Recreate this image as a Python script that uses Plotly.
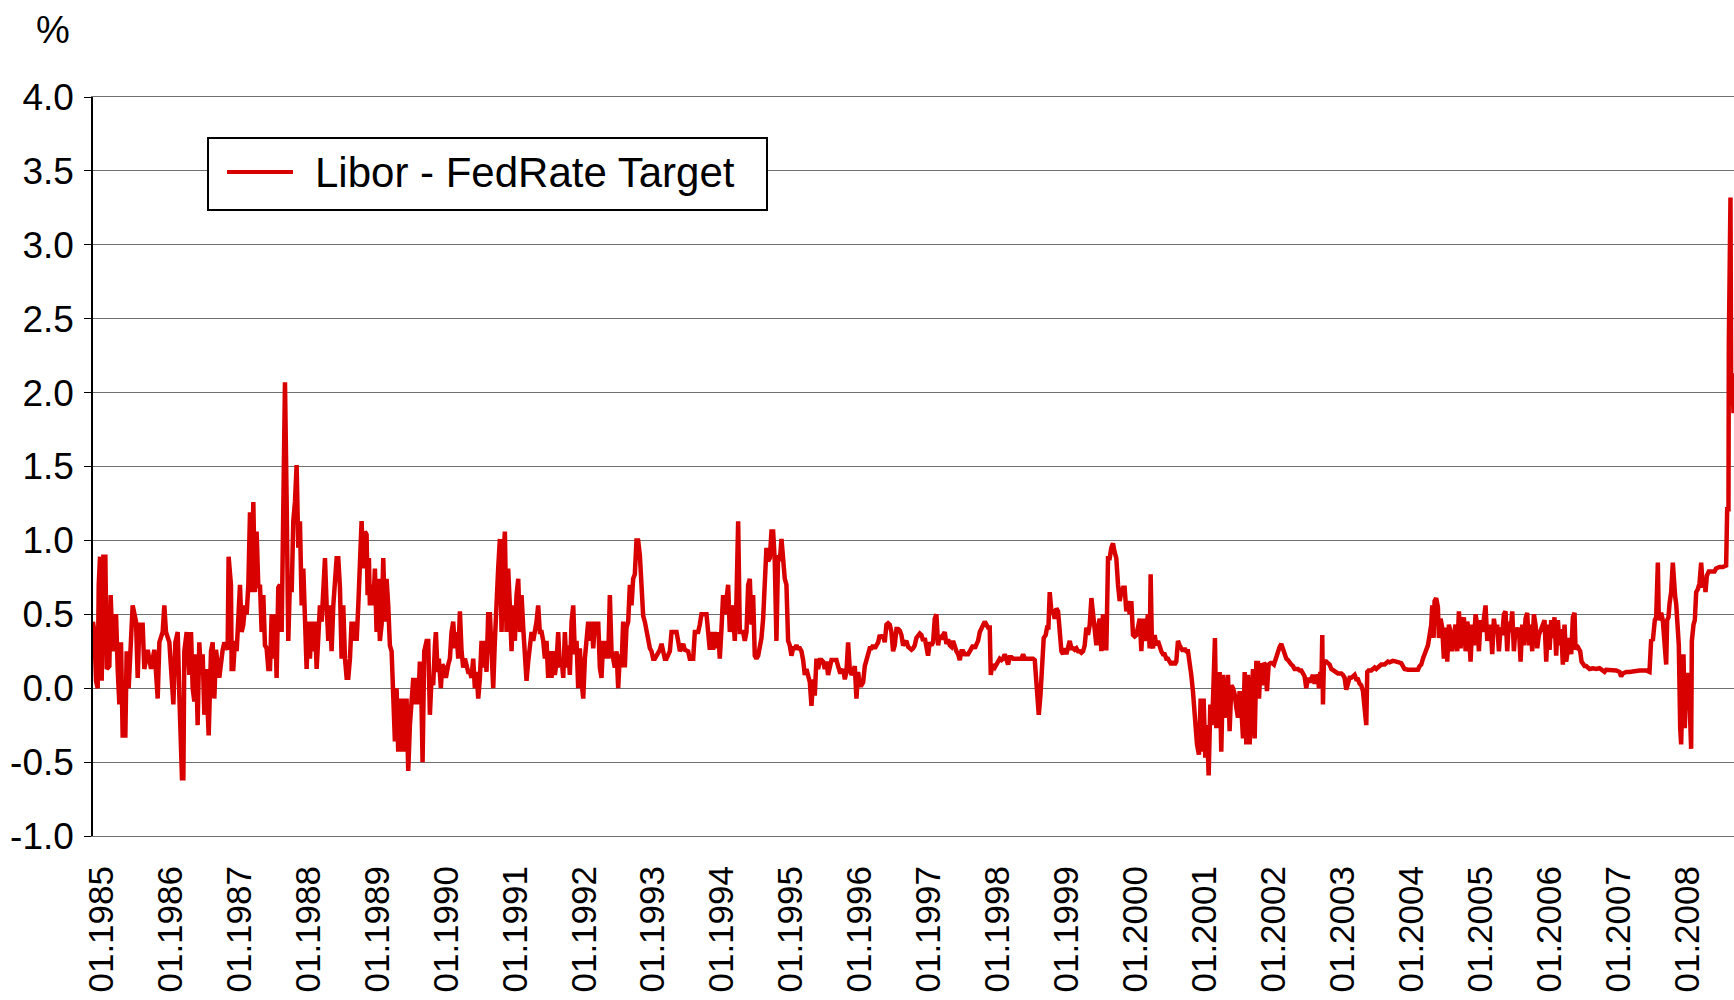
import plotly.graph_objects as go

# ---- data: (decimal year, Libor - Fed target spread in %) ----
SPREAD_1985_1986 = [
    (1985.000, 0.45), (1985.020, 0.38), (1985.044, 0.05), (1985.068, 0.00), (1985.083, 0.70),
    (1985.102, 0.89), (1985.126, 0.05), (1985.150, 0.89), (1985.179, 0.89), (1985.199, 0.13),
    (1985.237, 0.15), (1985.256, 0.63), (1985.285, 0.25), (1985.334, 0.50), (1985.358, 0.13),
    (1985.382, -0.11), (1985.406, 0.31), (1985.430, -0.32), (1985.469, -0.32), (1985.488, 0.25),
    (1985.517, 0.00), (1985.551, 0.45), (1985.575, 0.56), (1985.624, 0.45), (1985.648, 0.07),
    (1985.672, 0.43), (1985.720, 0.43), (1985.744, 0.13), (1985.793, 0.26), (1985.841, 0.13),
    (1985.889, 0.26), (1985.913, 0.11), (1985.938, -0.07), (1985.962, 0.31), (1986.010, 0.38),
    (1986.034, 0.56), (1986.058, 0.38), (1986.107, 0.31), (1986.131, 0.13), (1986.165, -0.11),
    (1986.194, 0.31), (1986.228, 0.38), (1986.252, -0.05), (1986.290, -0.61), (1986.310, -0.61),
    (1986.324, 0.25), (1986.358, 0.38), (1986.397, 0.09), (1986.421, 0.38), (1986.445, 0.00),
    (1986.469, -0.09), (1986.493, 0.23), (1986.517, -0.25), (1986.541, 0.31), (1986.566, 0.09),
    (1986.590, 0.23), (1986.614, -0.18), (1986.638, 0.13), (1986.677, -0.32), (1986.711, 0.25),
    (1986.735, 0.31), (1986.759, -0.07), (1986.783, 0.26), (1986.831, 0.07), (1986.880, 0.26),
    (1986.904, 0.31), (1986.952, 0.26), (1986.966, 0.89), (1987.000, 0.70),
]

SPREAD_1987_1988 = [
    (1987.010, 0.13), (1987.034, 0.13), (1987.058, 0.32), (1987.083, 0.25), (1987.107, 0.50),
    (1987.131, 0.70), (1987.155, 0.38), (1987.179, 0.43), (1987.203, 0.56), (1987.228, 0.50),
    (1987.252, 0.70), (1987.276, 1.19), (1987.300, 0.65), (1987.324, 1.26), (1987.348, 0.65),
    (1987.372, 1.06), (1987.397, 0.68), (1987.421, 0.70), (1987.445, 0.38), (1987.469, 0.63),
    (1987.493, 0.29), (1987.517, 0.27), (1987.542, 0.13), (1987.566, 0.13), (1987.590, 0.50),
    (1987.614, 0.20), (1987.638, 0.50), (1987.662, 0.07), (1987.686, 0.68), (1987.711, 0.70),
    (1987.735, 0.38), (1987.759, 1.37), (1987.783, 2.07), (1987.807, 1.28), (1987.831, 0.32),
    (1987.856, 0.74), (1987.880, 0.65), (1987.904, 1.13), (1987.928, 1.26), (1987.952, 1.51),
    (1987.976, 0.95), (1988.000, 1.13), (1988.025, 0.56), (1988.049, 0.81), (1988.073, 0.50),
    (1988.097, 0.13), (1988.121, 0.45), (1988.145, 0.20), (1988.170, 0.45), (1988.194, 0.25),
    (1988.218, 0.45), (1988.242, 0.13), (1988.266, 0.34), (1988.290, 0.56), (1988.315, 0.45),
    (1988.339, 0.63), (1988.363, 0.88), (1988.387, 0.56), (1988.411, 0.32), (1988.435, 0.56),
    (1988.459, 0.25), (1988.484, 0.56), (1988.508, 0.68), (1988.532, 0.88), (1988.556, 0.88),
    (1988.580, 0.68), (1988.604, 0.20), (1988.628, 0.56), (1988.653, 0.20), (1988.677, 0.07),
    (1988.701, 0.07), (1988.725, 0.20), (1988.749, 0.45), (1988.773, 0.32), (1988.797, 0.45),
    (1988.822, 0.32), (1988.846, 0.56), (1988.870, 0.95), (1988.894, 1.13), (1988.918, 0.81),
    (1988.942, 1.06),
]

SPREAD_1989_1990 = [
    (1988.966, 1.04), (1988.981, 0.63), (1989.000, 0.88), (1989.014, 0.56), (1989.039, 0.70),
    (1989.063, 0.56), (1989.087, 0.81), (1989.111, 0.38), (1989.135, 0.74), (1989.159, 0.32),
    (1989.184, 0.43), (1989.208, 0.88), (1989.232, 0.45), (1989.256, 0.74), (1989.280, 0.56),
    (1989.304, 0.29), (1989.329, 0.25), (1989.353, -0.02), (1989.377, -0.36), (1989.401, 0.00),
    (1989.425, -0.43), (1989.449, -0.07), (1989.473, -0.43), (1989.498, -0.07), (1989.522, -0.43),
    (1989.546, -0.07), (1989.570, -0.56), (1989.594, -0.25), (1989.618, -0.11), (1989.643, 0.07),
    (1989.667, -0.11), (1989.691, 0.07), (1989.715, -0.11), (1989.739, 0.18), (1989.763, -0.11),
    (1989.778, -0.50), (1989.802, 0.25), (1989.836, 0.32), (1989.860, 0.32), (1989.884, -0.18),
    (1989.908, 0.07), (1989.932, 0.02), (1989.957, 0.29), (1989.971, 0.38), (1989.995, 0.11),
    (1990.014, 0.20), (1990.043, 0.00), (1990.063, 0.16), (1990.092, 0.14), (1990.116, 0.07),
    (1990.150, 0.16), (1990.174, 0.20), (1990.198, 0.38), (1990.222, 0.45), (1990.246, 0.27),
    (1990.271, 0.38), (1990.295, 0.20), (1990.319, 0.52), (1990.343, 0.25), (1990.367, 0.14),
    (1990.391, 0.20), (1990.415, 0.14), (1990.440, 0.11), (1990.464, 0.11), (1990.488, 0.07),
    (1990.512, 0.20), (1990.536, 0.00), (1990.560, 0.11), (1990.585, -0.07), (1990.609, 0.07),
    (1990.633, 0.32), (1990.657, 0.14), (1990.681, 0.32), (1990.705, 0.11), (1990.729, 0.50),
    (1990.754, 0.50), (1990.778, 0.16), (1990.802, 0.00), (1990.826, 0.32), (1990.850, 0.63),
    (1990.874, 0.81), (1990.899, 1.01), (1990.923, 0.38), (1990.947, 0.86), (1990.971, 1.06),
    (1990.995, 0.38), (1991.019, 0.81), (1991.043, 0.56), (1991.068, 0.25), (1991.092, 0.56),
]

SPREAD_1991_1992 = [
    (1991.116, 0.32), (1991.140, 0.63), (1991.165, 0.74), (1991.189, 0.38), (1991.213, 0.63),
    (1991.237, 0.41), (1991.261, 0.14), (1991.285, 0.05), (1991.309, 0.18), (1991.334, 0.27),
    (1991.358, 0.38), (1991.382, 0.32), (1991.406, 0.38), (1991.430, 0.45), (1991.454, 0.56),
    (1991.478, 0.38), (1991.503, 0.38), (1991.527, 0.32), (1991.551, 0.20), (1991.575, 0.32),
    (1991.599, 0.07), (1991.624, 0.25), (1991.648, 0.07), (1991.672, 0.25), (1991.696, 0.09),
    (1991.720, 0.18), (1991.744, 0.38), (1991.768, 0.14), (1991.793, 0.20), (1991.817, 0.07),
    (1991.841, 0.38), (1991.865, 0.14), (1991.889, 0.29), (1991.913, 0.09), (1991.938, 0.45),
    (1991.962, 0.56), (1991.986, 0.23), (1992.010, 0.32), (1992.034, 0.00), (1992.058, 0.27),
    (1992.082, 0.05), (1992.107, -0.07), (1992.131, 0.20), (1992.155, 0.38), (1992.179, 0.45),
    (1992.203, 0.32), (1992.227, 0.45), (1992.252, 0.27), (1992.276, 0.45), (1992.300, 0.36),
    (1992.324, 0.45), (1992.348, 0.14), (1992.372, 0.07), (1992.396, 0.32), (1992.421, 0.20),
    (1992.445, 0.32), (1992.469, 0.20), (1992.493, 0.63), (1992.517, 0.25), (1992.541, 0.20),
    (1992.565, 0.14), (1992.590, 0.25), (1992.614, 0.00), (1992.638, 0.23), (1992.662, 0.14),
    (1992.686, 0.45), (1992.710, 0.14), (1992.734, 0.41), (1992.759, 0.45), (1992.783, 0.70),
    (1992.807, 0.56), (1992.831, 0.74), (1992.855, 0.77), (1992.879, 1.00), (1992.903, 1.00),
]

SPREAD_1993_1994 = [
    (1992.928, 0.90), (1992.952, 0.63), (1992.976, 0.49), (1993.000, 0.45), (1993.025, 0.38),
    (1993.049, 0.32), (1993.073, 0.27), (1993.097, 0.25), (1993.121, 0.20), (1993.145, 0.20),
    (1993.170, 0.22), (1993.194, 0.25), (1993.218, 0.26), (1993.242, 0.30), (1993.266, 0.25),
    (1993.290, 0.20), (1993.314, 0.20), (1993.339, 0.22), (1993.363, 0.25), (1993.387, 0.38),
    (1993.411, 0.38), (1993.435, 0.38), (1993.459, 0.38), (1993.483, 0.32), (1993.508, 0.25),
    (1993.532, 0.27), (1993.556, 0.30), (1993.580, 0.26), (1993.604, 0.25), (1993.628, 0.25),
    (1993.652, 0.20), (1993.676, 0.20), (1993.701, 0.20), (1993.725, 0.38), (1993.749, 0.38),
    (1993.773, 0.38), (1993.797, 0.43), (1993.821, 0.50), (1993.845, 0.50), (1993.870, 0.50),
    (1993.894, 0.50), (1993.918, 0.38), (1993.942, 0.26), (1993.966, 0.38), (1993.990, 0.26),
    (1994.014, 0.38), (1994.039, 0.27), (1994.063, 0.38), (1994.087, 0.20), (1994.111, 0.40),
    (1994.135, 0.63), (1994.159, 0.50), (1994.184, 0.59), (1994.208, 0.70), (1994.232, 0.38),
    (1994.256, 0.56), (1994.280, 0.50), (1994.304, 0.32), (1994.328, 0.59), (1994.353, 1.13),
    (1994.377, 0.38), (1994.401, 0.38), (1994.425, 0.38), (1994.449, 0.32), (1994.474, 0.38),
    (1994.498, 0.70), (1994.522, 0.74), (1994.546, 0.43), (1994.570, 0.63), (1994.594, 0.22),
    (1994.618, 0.20), (1994.643, 0.22), (1994.667, 0.27), (1994.691, 0.34), (1994.715, 0.47),
    (1994.739, 0.74), (1994.763, 0.95), (1994.788, 0.86), (1994.812, 0.88), (1994.836, 1.06),
    (1994.860, 1.06), (1994.884, 0.86), (1994.908, 0.32), (1994.932, 0.90), (1994.957, 0.86),
    (1994.981, 1.01), (1995.005, 0.88), (1995.029, 0.74), (1995.053, 0.70), (1995.077, 0.32),
    (1995.101, 0.29), (1995.126, 0.22), (1995.150, 0.27), (1995.174, 0.27), (1995.198, 0.29),
    (1995.222, 0.27),
]

SPREAD_1995_1996 = [
    (1995.247, 0.27), (1995.271, 0.25), (1995.295, 0.19), (1995.319, 0.09), (1995.343, 0.13),
    (1995.368, 0.09), (1995.392, 0.04), (1995.416, -0.12), (1995.440, 0.06), (1995.464, -0.05),
    (1995.488, 0.20), (1995.513, 0.13), (1995.537, 0.19), (1995.561, 0.19), (1995.585, 0.18),
    (1995.609, 0.13), (1995.633, 0.18), (1995.657, 0.09), (1995.682, 0.13), (1995.706, 0.19),
    (1995.730, 0.19), (1995.754, 0.19), (1995.778, 0.19), (1995.802, 0.15), (1995.827, 0.11),
    (1995.851, 0.11), (1995.875, 0.13), (1995.899, 0.06), (1995.923, 0.11), (1995.947, 0.31),
    (1995.971, 0.13), (1995.996, 0.09), (1996.020, 0.11), (1996.044, 0.15), (1996.068, -0.07),
    (1996.092, 0.11), (1996.116, 0.02), (1996.140, 0.02), (1996.165, 0.04), (1996.189, 0.15),
    (1996.213, 0.20), (1996.237, 0.25), (1996.261, 0.27), (1996.285, 0.27), (1996.309, 0.29),
    (1996.334, 0.27), (1996.358, 0.29), (1996.382, 0.31), (1996.406, 0.36), (1996.430, 0.34),
    (1996.454, 0.36), (1996.478, 0.31), (1996.503, 0.43), (1996.527, 0.44), (1996.551, 0.43),
    (1996.575, 0.38), (1996.599, 0.25), (1996.623, 0.29), (1996.648, 0.40), (1996.672, 0.40),
    (1996.696, 0.39), (1996.720, 0.36), (1996.744, 0.29), (1996.768, 0.30), (1996.792, 0.32),
    (1996.817, 0.28), (1996.841, 0.27), (1996.865, 0.26), (1996.889, 0.27), (1996.913, 0.29),
    (1996.937, 0.34), (1996.961, 0.36), (1996.986, 0.37), (1997.010, 0.36), (1997.034, 0.32),
    (1997.058, 0.34), (1997.082, 0.27), (1997.106, 0.22), (1997.131, 0.31), (1997.155, 0.29),
    (1997.179, 0.31), (1997.203, 0.47), (1997.227, 0.50),
]

SPREAD_1997_1999 = [
    (1997.252, 0.29), (1997.276, 0.36), (1997.300, 0.33), (1997.324, 0.36), (1997.348, 0.38),
    (1997.372, 0.30), (1997.397, 0.33), (1997.421, 0.29), (1997.445, 0.28), (1997.469, 0.32),
    (1997.493, 0.27), (1997.517, 0.25), (1997.542, 0.23), (1997.566, 0.19), (1997.590, 0.25),
    (1997.614, 0.25), (1997.638, 0.23), (1997.662, 0.23), (1997.686, 0.23), (1997.711, 0.25),
    (1997.735, 0.27), (1997.759, 0.29), (1997.783, 0.27), (1997.807, 0.29), (1997.831, 0.32),
    (1997.856, 0.38), (1997.880, 0.41), (1997.904, 0.43), (1997.928, 0.45), (1997.952, 0.43),
    (1997.976, 0.41), (1998.000, 0.41), (1998.015, 0.09), (1998.039, 0.16), (1998.073, 0.14),
    (1998.097, 0.16), (1998.121, 0.18), (1998.145, 0.20), (1998.170, 0.19), (1998.194, 0.20),
    (1998.218, 0.23), (1998.242, 0.20), (1998.266, 0.16), (1998.290, 0.21), (1998.315, 0.21),
    (1998.339, 0.20), (1998.387, 0.20), (1998.435, 0.20), (1998.459, 0.20), (1998.484, 0.23),
    (1998.508, 0.20), (1998.532, 0.20), (1998.580, 0.20), (1998.628, 0.20), (1998.653, 0.19),
    (1998.667, 0.09), (1998.686, 0.07), (1998.711, -0.18), (1998.735, -0.05), (1998.754, 0.09),
    (1998.773, 0.16), (1998.783, 0.34), (1998.812, 0.36), (1998.831, 0.41), (1998.851, 0.41),
    (1998.870, 0.65), (1998.894, 0.52), (1998.918, 0.52), (1998.942, 0.47), (1998.967, 0.54),
    (1998.991, 0.52), (1999.015, 0.34), (1999.039, 0.25), (1999.063, 0.23), (1999.087, 0.27),
    (1999.111, 0.23), (1999.135, 0.29), (1999.160, 0.32), (1999.184, 0.27), (1999.208, 0.27),
    (1999.232, 0.26), (1999.257, 0.27), (1999.281, 0.25), (1999.305, 0.25), (1999.329, 0.24),
    (1999.353, 0.25), (1999.377, 0.29), (1999.401, 0.41), (1999.425, 0.36), (1999.450, 0.43),
    (1999.474, 0.61),
]

SPREAD_1999_2001 = [
    (1999.521, 0.38), (1999.546, 0.29), (1999.570, 0.41), (1999.594, 0.47), (1999.618, 0.25),
    (1999.642, 0.50), (1999.666, 0.27), (1999.691, 0.27), (1999.715, 0.88), (1999.739, 0.88),
    (1999.763, 0.95), (1999.787, 0.98), (1999.811, 0.92), (1999.835, 0.88), (1999.860, 0.70),
    (1999.884, 0.59), (1999.908, 0.65), (1999.932, 0.68), (1999.956, 0.68), (1999.980, 0.52),
    (2000.005, 0.59), (2000.029, 0.50), (2000.053, 0.59), (2000.077, 0.36), (2000.101, 0.35),
    (2000.125, 0.36), (2000.149, 0.41), (2000.174, 0.47), (2000.198, 0.25), (2000.222, 0.47),
    (2000.246, 0.32), (2000.270, 0.41), (2000.294, 0.50), (2000.319, 0.27), (2000.333, 0.77),
    (2000.352, 0.29), (2000.367, 0.27), (2000.391, 0.36), (2000.415, 0.29), (2000.439, 0.32),
    (2000.463, 0.27), (2000.488, 0.25), (2000.512, 0.23), (2000.536, 0.23), (2000.560, 0.20),
    (2000.584, 0.20), (2000.608, 0.18), (2000.633, 0.16), (2000.657, 0.18), (2000.681, 0.16),
    (2000.705, 0.18), (2000.729, 0.32), (2000.753, 0.29), (2000.777, 0.27), (2000.802, 0.25),
    (2000.826, 0.27), (2000.850, 0.25), (2000.874, 0.25), (2000.898, 0.18), (2000.922, 0.09),
    (2000.946, -0.02), (2000.971, -0.18), (2001.005, -0.38), (2001.033, -0.45), (2001.058, -0.07),
    (2001.082, -0.43), (2001.101, -0.07), (2001.125, -0.47), (2001.149, -0.25), (2001.174, -0.59),
    (2001.198, -0.11), (2001.217, -0.25), (2001.236, -0.09), (2001.265, 0.34), (2001.285, -0.27),
    (2001.309, -0.11), (2001.333, 0.11), (2001.357, -0.43), (2001.381, 0.09), (2001.405, -0.20),
]

SPREAD_2001_2003 = [
    (2001.454, 0.09), (2001.478, -0.29), (2001.503, 0.02), (2001.527, 0.00), (2001.551, -0.04),
    (2001.575, -0.13), (2001.599, -0.20), (2001.623, -0.02), (2001.647, -0.13), (2001.672, -0.34),
    (2001.696, 0.11), (2001.720, -0.38), (2001.744, 0.09), (2001.768, -0.38), (2001.792, -0.07),
    (2001.817, 0.13), (2001.841, -0.34), (2001.850, 0.16), (2001.865, 0.17), (2001.889, 0.17),
    (2001.904, -0.07), (2001.928, 0.17), (2001.947, 0.02), (2001.976, 0.17), (2001.995, 0.16),
    (2002.019, -0.02), (2002.044, 0.16), (2002.073, 0.17), (2002.097, 0.17), (2002.121, 0.16),
    (2002.140, 0.19), (2002.155, 0.20), (2002.179, 0.26), (2002.203, 0.28), (2002.227, 0.30),
    (2002.251, 0.27), (2002.276, 0.22), (2002.300, 0.20), (2002.324, 0.19), (2002.348, 0.17),
    (2002.372, 0.16), (2002.396, 0.15), (2002.420, 0.13), (2002.445, 0.13), (2002.469, 0.13),
    (2002.493, 0.12), (2002.517, 0.12), (2002.541, 0.10), (2002.565, 0.08), (2002.589, 0.00),
    (2002.614, 0.07), (2002.638, 0.04), (2002.662, 0.07), (2002.686, 0.09), (2002.710, 0.03),
    (2002.734, 0.09), (2002.759, 0.07), (2002.773, 0.00), (2002.792, 0.11), (2002.807, 0.00),
    (2002.821, 0.36), (2002.831, -0.11), (2002.845, 0.18), (2002.879, 0.18), (2002.903, 0.17),
    (2002.928, 0.16), (2002.952, 0.13), (2002.976, 0.12), (2003.000, 0.11), (2003.024, 0.10),
    (2003.048, 0.10), (2003.073, 0.10), (2003.097, 0.10), (2003.121, 0.09), (2003.145, 0.07),
    (2003.169, -0.01), (2003.193, 0.04), (2003.217, 0.07), (2003.242, 0.07), (2003.266, 0.08),
    (2003.290, 0.09), (2003.314, 0.06), (2003.338, 0.06), (2003.362, 0.03), (2003.386, 0.02),
    (2003.411, -0.02), (2003.435, -0.13), (2003.459, -0.25), (2003.473, 0.11), (2003.493, 0.12),
    (2003.531, 0.12), (2003.556, 0.13), (2003.580, 0.14), (2003.604, 0.13), (2003.628, 0.14),
    (2003.652, 0.16), (2003.676, 0.16), (2003.725, 0.16), (2003.773, 0.18),
]

SPREAD_2003_2005 = [
    (2003.797, 0.175), (2003.845, 0.185), (2003.894, 0.18), (2003.942, 0.175), (2003.966, 0.17),
    (2003.990, 0.15), (2004.014, 0.13), (2004.063, 0.125), (2004.111, 0.125), (2004.159, 0.125),
    (2004.208, 0.125), (2004.232, 0.15), (2004.256, 0.16), (2004.280, 0.20), (2004.304, 0.23),
    (2004.328, 0.27), (2004.353, 0.29), (2004.377, 0.36), (2004.401, 0.43), (2004.415, 0.56),
    (2004.435, 0.34), (2004.449, 0.59), (2004.473, 0.61), (2004.497, 0.55), (2004.512, 0.34),
    (2004.536, 0.47), (2004.560, 0.41), (2004.584, 0.20), (2004.609, 0.41), (2004.633, 0.18),
    (2004.657, 0.43), (2004.681, 0.38), (2004.705, 0.25), (2004.729, 0.36), (2004.753, 0.43),
    (2004.778, 0.25), (2004.802, 0.52), (2004.826, 0.27), (2004.850, 0.43), (2004.874, 0.48),
    (2004.899, 0.25), (2004.923, 0.45), (2004.947, 0.38), (2004.971, 0.18), (2004.995, 0.43),
    (2005.019, 0.29), (2005.043, 0.50), (2005.068, 0.43), (2005.092, 0.25), (2005.116, 0.46),
    (2005.140, 0.38), (2005.164, 0.47), (2005.188, 0.56), (2005.213, 0.32), (2005.237, 0.38),
    (2005.261, 0.43), (2005.285, 0.23), (2005.309, 0.47), (2005.333, 0.38), (2005.357, 0.43),
    (2005.382, 0.25), (2005.406, 0.41), (2005.430, 0.36), (2005.454, 0.50), (2005.478, 0.52),
    (2005.502, 0.25), (2005.527, 0.45), (2005.551, 0.38), (2005.575, 0.52), (2005.599, 0.25),
    (2005.623, 0.41), (2005.647, 0.36), (2005.671, 0.41), (2005.696, 0.18), (2005.720, 0.43),
    (2005.744, 0.29), (2005.768, 0.47), (2005.792, 0.51), (2005.816, 0.29), (2005.840, 0.43),
    (2005.865, 0.25), (2005.889, 0.50), (2005.913, 0.43), (2005.937, 0.27), (2005.961, 0.36),
]

SPREAD_2006_2008 = [
    (2006.019, 0.43), (2006.043, 0.46), (2006.068, 0.18), (2006.092, 0.43), (2006.116, 0.26),
    (2006.140, 0.46), (2006.164, 0.34), (2006.188, 0.48), (2006.212, 0.22), (2006.237, 0.46),
    (2006.261, 0.29), (2006.285, 0.40), (2006.309, 0.16), (2006.333, 0.43), (2006.357, 0.18),
    (2006.382, 0.26), (2006.406, 0.34), (2006.430, 0.23), (2006.454, 0.48), (2006.478, 0.51),
    (2006.493, 0.26), (2006.512, 0.29), (2006.541, 0.26), (2006.560, 0.25), (2006.580, 0.18),
    (2006.599, 0.16), (2006.623, 0.15), (2006.647, 0.15), (2006.671, 0.135), (2006.696, 0.13),
    (2006.744, 0.135), (2006.792, 0.13), (2006.840, 0.135), (2006.889, 0.12), (2006.913, 0.11),
    (2006.937, 0.125), (2006.985, 0.125), (2007.034, 0.125), (2007.082, 0.12), (2007.130, 0.11),
    (2007.154, 0.08), (2007.179, 0.10), (2007.227, 0.11), (2007.275, 0.11), (2007.324, 0.115),
    (2007.372, 0.12), (2007.420, 0.12), (2007.468, 0.12), (2007.517, 0.12), (2007.565, 0.11),
    (2007.575, 0.32), (2007.589, 0.33), (2007.613, 0.32), (2007.623, 0.43), (2007.642, 0.46),
    (2007.662, 0.48), (2007.686, 0.85), (2007.700, 0.46), (2007.720, 0.48), (2007.734, 0.51),
    (2007.758, 0.46), (2007.783, 0.29), (2007.797, 0.16), (2007.807, 0.16), (2007.821, 0.46),
    (2007.840, 0.48), (2007.855, 0.57), (2007.879, 0.65), (2007.903, 0.85), (2007.918, 0.71),
    (2007.937, 0.62), (2007.952, 0.57), (2007.976, 0.40), (2007.990, 0.29), (2008.010, -0.27),
    (2008.024, -0.38), (2008.043, 0.01), (2008.058, 0.23), (2008.077, -0.27), (2008.097, 0.09),
    (2008.121, 0.09), (2008.145, -0.08), (2008.169, -0.41), (2008.179, 0.32), (2008.203, 0.43),
    (2008.222, 0.46), (2008.242, 0.65), (2008.266, 0.67), (2008.290, 0.71), (2008.314, 0.85),
    (2008.338, 0.68), (2008.362, 0.73), (2008.377, 0.65), (2008.396, 0.76), (2008.425, 0.79),
    (2008.459, 0.79), (2008.507, 0.79), (2008.531, 0.81), (2008.580, 0.82), (2008.628, 0.82),
    (2008.676, 0.83), (2008.691, 1.21), (2008.710, 1.21), (2008.715, 2.33), (2008.739, 3.32),
    (2008.749, 2.02), (2008.763, 2.13), (2008.783, 1.86),
]

SERIES_NAME = "Libor - FedRate Target"
Y_TICKS = [-1.0, -0.5, 0.0, 0.5, 1.0, 1.5, 2.0, 2.5, 3.0, 3.5, 4.0]
YEARS = list(range(1985, 2009))
X_TICK_LABELS = ["01.%d" % y for y in YEARS]
UNIT_LABEL = "%"

# ---- build ----
rows = (SPREAD_1985_1986 + SPREAD_1987_1988 + SPREAD_1989_1990 + SPREAD_1991_1992
        + SPREAD_1993_1994 + SPREAD_1995_1996 + SPREAD_1997_1999 + SPREAD_1999_2001
        + SPREAD_2001_2003 + SPREAD_2003_2005 + SPREAD_2006_2008)
xs = [r[0] for r in rows]
ys = [r[1] for r in rows]

RED = "#d90000"
GRID = "#6f6f6f"
FONT = "Liberation Sans, Arial, sans-serif"

W, H = 1734, 1000
L, R, T, B = 93, 0, 97, 164
PW, PH = W - L - R, H - T - B


def px_x(px):
    return (px - L) / PW


def px_y(py):
    return (H - B - py) / PH


fig = go.Figure()
fig.add_trace(go.Scatter(x=xs, y=ys, mode="lines", name=SERIES_NAME,
                         line=dict(color=RED, width=4.5), showlegend=False))

label_shift = 0.12  # labels sit slightly right of the year start in the original
fig.update_layout(
    width=W, height=H,
    margin=dict(l=L, r=R, t=T, b=B, pad=0),
    paper_bgcolor="white", plot_bgcolor="white",
    font=dict(family=FONT, color="black"),
    showlegend=False,
    xaxis=dict(
        range=[1985.0, 2008.79],
        tickmode="array",
        tickvals=[y + label_shift for y in YEARS],
        ticktext=X_TICK_LABELS,
        tickangle=-90,
        tickfont=dict(size=35, family=FONT, color="black"),
        showgrid=False, zeroline=False,
        showline=True, linecolor=GRID, linewidth=1, mirror=True,
        ticks="", ticklabelstandoff=15,
    ),
    yaxis=dict(
        range=[-1.0, 4.0],
        tickmode="array",
        tickvals=Y_TICKS,
        ticktext=["%.1f" % v for v in Y_TICKS],
        tickfont=dict(size=37, family=FONT, color="black"),
        showgrid=True, gridcolor=GRID, gridwidth=1,
        zeroline=False,
        showline=True, linecolor="black", linewidth=1.5,
        ticks="outside", ticklen=7, tickcolor="black", tickwidth=1,
        ticklabelstandoff=3,
    ),
)

# legend box drawn like the original (long line sample)
fig.add_shape(type="rect", xref="paper", yref="paper",
              x0=px_x(208), x1=px_x(767), y0=px_y(210), y1=px_y(138),
              line=dict(color="black", width=2), fillcolor="white", layer="above")
fig.add_shape(type="line", xref="paper", yref="paper",
              x0=px_x(227), x1=px_x(293), y0=px_y(172), y1=px_y(172),
              line=dict(color=RED, width=4), layer="above")
fig.add_annotation(xref="paper", yref="paper", x=px_x(313), y=px_y(172),
                   xanchor="left", yanchor="middle", showarrow=False,
                   text=SERIES_NAME, font=dict(size=42, family=FONT, color="black"))
fig.add_annotation(xref="paper", yref="paper", x=px_x(53), y=px_y(30),
                   xanchor="center", yanchor="middle", showarrow=False,
                   text=UNIT_LABEL, font=dict(size=38, family=FONT, color="black"))

fig.write_html("out.html",
               config={"displayModeBar": False},
               post_script="document.body.style.margin='0';document.body.style.overflow='hidden';")
